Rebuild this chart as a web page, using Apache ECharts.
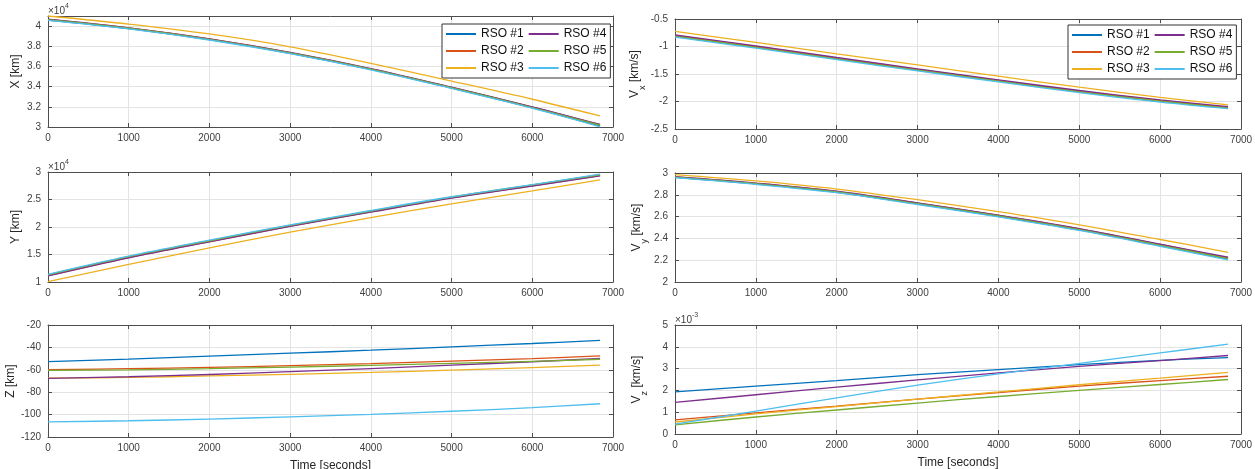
<!DOCTYPE html>
<html>
<head>
<meta charset="utf-8">
<script src="https://cdn.jsdelivr.net/npm/echarts@6/dist/echarts.min.js"></script>
<style>html,body{margin:0;padding:0;background:#fff}#c{width:1255px;height:469px}</style>
</head>
<body>
<div id="c"></div>
<script>
// ---- data ----
const time = [0, 1000, 2000, 3000, 4000, 5000, 6000, 6840];
const names = ['RSO #1', 'RSO #2', 'RSO #3', 'RSO #4', 'RSO #5', 'RSO #6'];
const colors = ['#0072BD', '#D95319', '#EDB120', '#7E2F8E', '#77AC30', '#4DBEEE'];

// X [km]
const X_km = [
  [40600, 39750, 38650, 37300, 35700, 33850, 31900, 30100],
  [40660, 39810, 38720, 37370, 35770, 33920, 31980, 30230],
  [41000, 40200, 39220, 37950, 36300, 34550, 32750, 31100],
  [40680, 39830, 38740, 37390, 35790, 33940, 32000, 30250],
  [40640, 39790, 38690, 37340, 35740, 33890, 31930, 30180],
  [40560, 39720, 38620, 37270, 35670, 33820, 31870, 30020]
];
// Y [km]
const Y_km = [
  [11300, 14550, 17450, 20250, 22850, 25400, 27600, 29450],
  [11150, 14450, 17350, 20150, 22750, 25300, 27500, 29350],
  [10050, 13200, 16200, 19050, 21700, 24200, 26550, 28550],
  [11100, 14400, 17300, 20100, 22700, 25250, 27450, 29300],
  [11300, 14600, 17500, 20300, 22900, 25450, 27650, 29500],
  [11400, 14700, 17600, 20400, 23000, 25500, 27700, 29600]
];
// Z [km]
const Z_km = [
  [-52.7, -50.5, -47.8, -45.2, -42.5, -39.5, -36.5, -33.8],
  [-59.8, -59.0, -57.8, -56.3, -54.5, -52.3, -50.0, -47.6],
  [-67.5, -66.8, -65.5, -64.0, -62.3, -60.3, -58.0, -55.8],
  [-67.7, -66.2, -64.2, -61.7, -58.9, -55.9, -52.8, -49.9],
  [-60.5, -60.0, -59.0, -57.6, -56.0, -54.2, -52.4, -50.6],
  [-106.5, -105.5, -104.0, -102.0, -99.8, -97.0, -93.8, -90.3]
];
// Vx [km/s]
const Vx_kms = [
  [-0.81, -1.01, -1.22, -1.425, -1.625, -1.82, -1.99, -2.115],
  [-0.80, -1.00, -1.21, -1.415, -1.615, -1.81, -1.98, -2.105],
  [-0.725, -0.925, -1.135, -1.335, -1.54, -1.74, -1.925, -2.06],
  [-0.79, -0.99, -1.20, -1.405, -1.605, -1.80, -1.97, -2.095],
  [-0.815, -1.015, -1.225, -1.43, -1.63, -1.825, -1.995, -2.12],
  [-0.83, -1.03, -1.24, -1.445, -1.645, -1.84, -2.01, -2.13]
];
// Vy [km/s]
const Vy_kms = [
  [2.96, 2.90, 2.823, 2.716, 2.603, 2.478, 2.334, 2.21],
  [2.965, 2.905, 2.83, 2.723, 2.611, 2.487, 2.344, 2.222],
  [2.985, 2.927, 2.853, 2.755, 2.645, 2.525, 2.39, 2.272],
  [2.967, 2.908, 2.833, 2.726, 2.614, 2.49, 2.347, 2.227],
  [2.962, 2.902, 2.826, 2.719, 2.606, 2.481, 2.337, 2.214],
  [2.957, 2.896, 2.819, 2.711, 2.598, 2.473, 2.328, 2.203]
];
// Vz [km/s]
const Vz_kms = [
  [0.00193, 0.00220, 0.00245, 0.00272, 0.00295, 0.00318, 0.00338, 0.00350],
  [0.00065, 0.00097, 0.00128, 0.00160, 0.00190, 0.00220, 0.00245, 0.00265],
  [0.00055, 0.00092, 0.00126, 0.00160, 0.00193, 0.00226, 0.00256, 0.00283],
  [0.00145, 0.00180, 0.00215, 0.00248, 0.00280, 0.00310, 0.00337, 0.00360],
  [0.00042, 0.00078, 0.00110, 0.00142, 0.00172, 0.00200, 0.00227, 0.00250],
  [0.00045, 0.00105, 0.00166, 0.00224, 0.00276, 0.00324, 0.00372, 0.00412]
];

// ---- layout ----
const FONT = 'Liberation Sans, Arial, sans-serif';
const AX = '#4d4d4d';
const panels = [
  {grid: {left: 48, top: 16, width: 565, height: 111}, data: X_km, min: 30000, max: 41000, interval: 2000,
   fmt: v => (v % 2000 === 0 ? String(v / 10000) : ''), name: 'X [km]'},
  {grid: {left: 675, top: 19, width: 566, height: 110}, data: Vx_kms, min: -2.5, max: -0.5, interval: 0.5,
   fmt: v => String(v), name: 'V{sub|x} [km/s]'},
  {grid: {left: 48, top: 172, width: 565, height: 110}, data: Y_km, min: 10000, max: 30000, interval: 5000,
   fmt: v => String(v / 10000), name: 'Y [km]'},
  {grid: {left: 675, top: 173, width: 566, height: 109}, data: Vy_kms, min: 2, max: 3, interval: 0.2,
   fmt: v => String(Math.round(v * 10) / 10), name: 'V{sub|y} [km/s]'},
  {grid: {left: 48, top: 325, width: 565, height: 112}, data: Z_km, min: -120, max: -20, interval: 20,
   fmt: v => String(v), name: 'Z [km]', xname: true},
  {grid: {left: 675, top: 325, width: 566, height: 109}, data: Vz_kms, min: 0, max: 0.005, interval: 0.001,
   fmt: v => String(Math.round(v * 1000)), name: 'V{sub|z} [km/s]', xname: true}
];

const grids = [], xAxes = [], yAxes = [], series = [];
panels.forEach((p, i) => {
  grids.push(Object.assign({containLabel: false, outerBoundsMode: 'none', show: false}, p.grid));
  const lineStyle = {color: AX, width: 1};
  const tick = {show: true, inside: true, length: 4, lineStyle: {color: AX}};
  xAxes.push({
    type: 'value', gridIndex: i, min: 0, max: 7000, interval: 1000,
    axisLine: {show: true, onZero: false, lineStyle},
    axisTick: tick,
    axisLabel: {color: '#404040', fontSize: 10, fontFamily: FONT, margin: 6, formatter: v => String(v)},
    splitLine: {show: true, lineStyle: {color: '#e3e3e3', width: 1}},
    name: p.xname ? 'Time [seconds]' : '', nameLocation: 'middle', nameGap: 23,
    nameTextStyle: {color: '#262626', fontSize: 12, fontFamily: FONT}
  });
  xAxes.push({
    type: 'value', gridIndex: i, position: 'top', min: 0, max: 7000, interval: 1000,
    axisLine: {show: true, onZero: false, lineStyle}, axisTick: tick,
    axisLabel: {show: false}, splitLine: {show: false}
  });
  yAxes.push({
    type: 'value', gridIndex: i, min: p.min, max: p.max, interval: p.interval,
    axisLine: {show: true, onZero: false, lineStyle},
    axisTick: tick,
    axisLabel: {color: '#404040', fontSize: 10, fontFamily: FONT, margin: 7, formatter: p.fmt},
    splitLine: {show: true, lineStyle: {color: '#e3e3e3', width: 1}},
    name: p.name, nameLocation: 'middle', nameRotate: 90, nameGap: 26,
    nameTextStyle: {color: '#262626', fontSize: 12, fontFamily: FONT,
      rich: {sub: {fontSize: 9, fontFamily: FONT, color: '#262626', verticalAlign: 'bottom', lineHeight: 24}}}
  });
  yAxes.push({
    type: 'value', gridIndex: i, position: 'right', min: p.min, max: p.max, interval: p.interval,
    axisLine: {show: true, onZero: false, lineStyle}, axisTick: tick,
    axisLabel: {show: false}, splitLine: {show: false}
  });
  p.data.forEach((vals, k) => {
    series.push({
      name: names[k], type: 'line', xAxisIndex: 2 * i, yAxisIndex: 2 * i,
      data: time.map((t, j) => [t, vals[j]]),
      showSymbol: false, symbol: 'none', smooth: 0.35,
      lineStyle: {color: colors[k], width: 1.3}, itemStyle: {color: colors[k]},
      z: 2 + k
    });
  });
});

const legendBase = {
  orient: 'vertical', height: 46, itemGap: 5, itemWidth: 30, itemHeight: 2, icon: 'rect',
  backgroundColor: '#fff', borderColor: '#333', borderWidth: 1, padding: [4, 4, 4, 4],
  textStyle: {color: '#111', fontSize: 12, fontFamily: FONT}, data: names
};

const expoStyle = (txt, x, y) => ({
  type: 'text', left: x, top: y,
  style: {text: txt, fill: '#404040', font: '10px ' + FONT,
    rich: {sup: {fontSize: 7, fontFamily: FONT, fill: '#404040', verticalAlign: 'top', lineHeight: 16}}}
});

const chart = echarts.init(document.getElementById('c'), null, {renderer: 'canvas'});
chart.setOption({
  backgroundColor: '#fff',
  animation: false,
  grid: grids,
  xAxis: xAxes,
  yAxis: yAxes,
  legend: [
    Object.assign({left: 442, top: 24}, legendBase),
    Object.assign({left: 1068, top: 25}, legendBase)
  ],
  graphic: [
    expoStyle('×10{sup|4}', 48, 3),
    expoStyle('×10{sup|4}', 48, 159),
    expoStyle('×10{sup|-3}', 675, 312)
  ],
  series
});
</script>
</body>
</html>
